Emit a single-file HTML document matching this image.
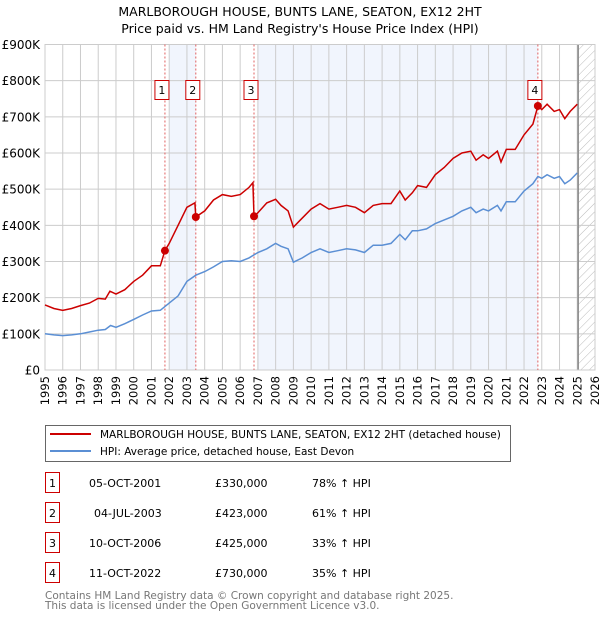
<!DOCTYPE html>
<html><head><meta charset="utf-8"><style>
body{margin:0;background:#fff;font-family:"Liberation Sans","DejaVu Sans",sans-serif;}
svg text{font-family:"DejaVu Sans","Liberation Sans",sans-serif;}
</style></head><body>
<svg id="chart" width="600" height="620" xmlns="http://www.w3.org/2000/svg">
<defs><pattern id="hatch" width="6" height="6" patternUnits="userSpaceOnUse" patternTransform="rotate(45)"><line x1="0" y1="0" x2="0" y2="6" stroke="#bbb" stroke-width="1"/></pattern></defs>
<text x="300" y="16" text-anchor="middle" font-size="12.5">MARLBOROUGH HOUSE, BUNTS LANE, SEATON, EX12 2HT</text>
<text x="300" y="33" text-anchor="middle" font-size="12.5">Price paid vs. HM Land Registry's House Price Index (HPI)</text>
<g id="plot"></g>
<rect x="45.5" y="425.5" width="465" height="36" fill="#fff" stroke="#666"/>
<line x1="50" y1="434" x2="91" y2="434" stroke="#cc0000" stroke-width="2"/>
<text x="100" y="438" font-size="10.5">MARLBOROUGH HOUSE, BUNTS LANE, SEATON, EX12 2HT (detached house)</text>
<line x1="50" y1="451" x2="91" y2="451" stroke="#5b8fd4" stroke-width="2"/>
<text x="100" y="455" font-size="10.5">HPI: Average price, detached house, East Devon</text>
<g id="table" font-size="11"></g>
<text x="45" y="599" font-size="10.5" fill="#777">Contains HM Land Registry data © Crown copyright and database right 2025.</text>
<text x="45" y="609" font-size="10.5" fill="#777">This data is licensed under the Open Government Licence v3.0.</text>
</svg>
<script>
const propYears=[1995,1995.5,1996,1996.5,1997,1997.5,1998,1998.4,1998.66,1999,1999.5,2000,2000.5,2001,2001.5,2001.76,2002,2002.5,2003,2003.45,2003.5,2004,2004.5,2005,2005.5,2006,2006.5,2006.72,2006.78,2007,2007.5,2008,2008.3,2008.7,2009,2009.3,2010,2010.5,2011,2011.5,2012,2012.5,2013,2013.5,2014,2014.5,2015,2015.3,2015.7,2016,2016.5,2017,2017.5,2018,2018.5,2019,2019.3,2019.7,2020,2020.5,2020.7,2021,2021.5,2022,2022.5,2022.78,2023,2023.3,2023.7,2024,2024.3,2024.6,2025];
const propValues=[180,170,165,170,178,185,198,196,218,210,222,245,262,288,288,330,350,400,450,462,423,440,470,485,480,485,505,518,425,435,462,472,455,440,395,410,445,460,445,450,455,450,435,455,460,460,495,470,490,510,505,540,560,585,600,605,580,595,585,605,575,610,610,650,680,730,720,735,715,720,695,715,735];
const hpiYears=[1995,1995.5,1996,1996.5,1997,1997.5,1998,1998.4,1998.7,1999,1999.5,2000,2000.5,2001,2001.5,2002,2002.5,2003,2003.5,2004,2004.5,2005,2005.5,2006,2006.5,2007,2007.5,2008,2008.3,2008.7,2009,2009.5,2010,2010.5,2011,2011.5,2012,2012.5,2013,2013.5,2014,2014.5,2015,2015.3,2015.7,2016,2016.5,2017,2017.5,2018,2018.5,2019,2019.3,2019.7,2020,2020.5,2020.7,2021,2021.5,2022,2022.5,2022.78,2023,2023.3,2023.7,2024,2024.3,2024.6,2025];
const hpiValues=[100,97,95,97,100,105,110,112,123,118,128,140,152,163,165,185,205,245,262,272,285,300,302,300,310,325,335,350,342,335,298,310,325,335,325,330,335,332,325,345,345,350,375,360,385,385,390,405,415,425,440,450,435,445,440,455,440,465,465,495,515,535,530,540,530,535,515,525,545];
const saleYears=[2001.76,2003.5,2006.78,2022.78];
const saleValues=[330,423,425,730];
const saleLabels=["1","2","3","4"];
const saleDates=["05-OCT-2001","04-JUL-2003","10-OCT-2006","11-OCT-2022"];
const salePrices=["£330,000","£423,000","£425,000","£730,000"];
const saleHpi=["78% ↑ HPI","61% ↑ HPI","33% ↑ HPI","35% ↑ HPI"];
const yTicks=[0,100,200,300,400,500,600,700,800,900];
const yTickLabels=["£0","£100K","£200K","£300K","£400K","£500K","£600K","£700K","£800K","£900K"];
const xTicks=[];for(let y=1995;y<=2026;y++)xTicks.push(y);

const L=45,R=595,T=44.5,B=370;
const X=v=>L+(v-1995)/(2026-1995)*(R-L);
const Y=v=>B-v/900*(B-T);
const NS="http://www.w3.org/2000/svg";
const plot=document.getElementById('plot');
function mk(tag,attrs,parent){const e=document.createElementNS(NS,tag);for(const k in attrs)e.setAttribute(k,attrs[k]);(parent||plot).appendChild(e);return e;}

let bg=mk('rect',{x:L,y:T,width:R-L,height:B-T,fill:'#fff'});


const shades=[[2002.0,saleYears[1]],[2007.0,saleYears[3]]];
shades.forEach((s,i)=>{const r=mk('rect',{x:X(s[0]),y:T,width:X(s[1])-X(s[0]),height:B-T,fill:'#eef3fd',opacity:0.8});

});
let h=mk('rect',{x:X(2025.05),y:T,width:R-X(2025.05),height:B-T,fill:'url(#hatch)'});


xTicks.forEach(t=>{const g=mk('line',{x1:X(t),x2:X(t),y1:T,y2:B,stroke:'#ccc','stroke-width':1});


const tx=mk('text',{x:0,y:0,'font-size':11.5,'text-anchor':'end',transform:`translate(${X(t)+4},${B+6}) rotate(-90)`});tx.textContent=t;

});
yTicks.forEach((t,i)=>{const g=mk('line',{x1:L,x2:R,y1:Y(t),y2:Y(t),stroke:'#ccc','stroke-width':1});


const tx=mk('text',{x:L-5,y:Y(t)+4.5,'font-size':12,'text-anchor':'end'});tx.textContent=yTickLabels[i];

});
let now=mk('line',{x1:X(2025.05),x2:X(2025.05),y1:T,y2:B,stroke:'#888','stroke-width':1.5});


let fr=mk('rect',{x:L,y:T,width:R-L,height:B-T,fill:'none',stroke:'#ccc'});


saleYears.forEach((s,i)=>{const l=mk('line',{x1:X(s),x2:X(s),y1:T,y2:B,stroke:'#e06060','stroke-width':1,'stroke-dasharray':'2,2'});

});
function path(xs,vs){return xs.map((x,i)=>(i?'L':'M')+X(x).toFixed(1)+','+Y(vs[i]).toFixed(1)).join('');}
let hp=mk('path',{d:path(hpiYears,hpiValues),fill:'none',stroke:'#5b8fd4','stroke-width':1.5});


let pp=mk('path',{d:path(propYears,propValues),fill:'none',stroke:'#cc0000','stroke-width':1.5});


saleYears.forEach((s,i)=>{const c=mk('circle',{cx:X(s),cy:Y(saleValues[i]),r:4,fill:'#cc0000'});


const b=mk('rect',{x:X(s)-10,y:80.5,width:14,height:19,fill:'#fff',stroke:'#cc0000'});


const t=mk('text',{x:X(s)-3,y:94,'font-size':11,'text-anchor':'middle'});t.textContent=saleLabels[i];

});
const tb=document.getElementById('table');
saleLabels.forEach((lab,i)=>{const cy=483+i*30;
const b=mk('rect',{x:45.5,y:cy-10.5,width:14,height:20,fill:'#fff',stroke:'#cc0000'},tb);


const cells=[[52.5,lab,'middle','table-index'],[89,saleDates[i],'start','table-date'],[215,salePrices[i],'start','table-price'],[312,saleHpi[i],'start','table-hpi-change']];
if(i===1)cells[1][0]=94;
cells.forEach(c=>{const t=mk('text',{x:c[0],y:cy+4,'text-anchor':c[2]},tb);t.textContent=c[1];

});});
</script>
</body></html>
